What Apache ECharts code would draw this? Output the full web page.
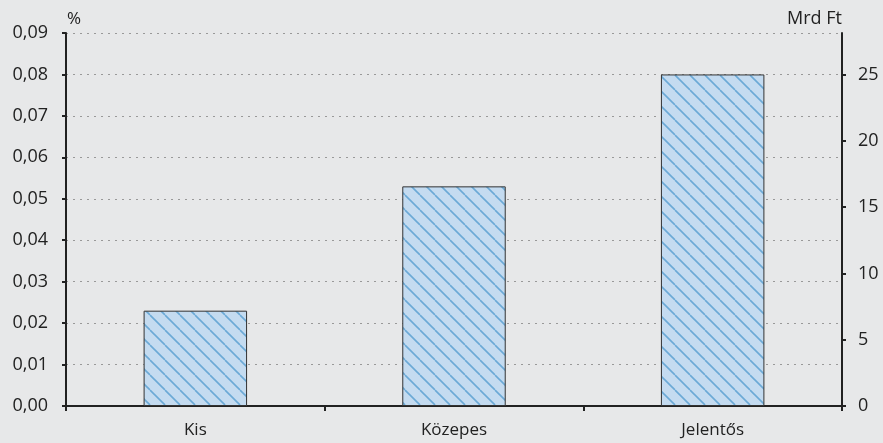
<!DOCTYPE html>
<html>
<head>
<meta charset="utf-8">
<script src="https://cdn.jsdelivr.net/npm/echarts@6/dist/echarts.min.js"></script>
<style>
html,body{margin:0;padding:0;background:#e7e8e9;}
#c{width:883px;height:443px;}
</style>
</head>
<body>
<div id="c"></div>
<script>
const categories = ['Kis', 'Közepes', 'Jelentős'];
const values = [0.023, 0.053, 0.080];
const leftTicks = [0, 0.01, 0.02, 0.03, 0.04, 0.05, 0.06, 0.07, 0.08, 0.09];
const rightTicks = [0, 5, 10, 15, 20, 25];

function hatch() {
  const c = document.createElement('canvas');
  c.width = 15; c.height = 15;
  const g = c.getContext('2d');
  g.fillStyle = '#c4dbf0';
  g.fillRect(0, 0, 15, 15);
  g.strokeStyle = '#6ba9d6';
  g.lineWidth = 1.6;
  for (let k = -1; k <= 1; k++) {
    g.beginPath();
    g.moveTo(k * 15, 0);
    g.lineTo(k * 15 + 15, 15);
    g.stroke();
  }
  return c;
}

const chart = echarts.init(document.getElementById('c'));
const font = 'Open Sans, Noto Sans, sans-serif';
chart.setOption({
  backgroundColor: '#e7e8e9',
  animation: false,
  grid: { left: 66, right: 41, top: 33, bottom: 37 },
  xAxis: {
    type: 'category',
    data: categories,
    boundaryGap: true,
    axisLine: { lineStyle: { color: '#222', width: 2 } },
    axisTick: { show: true, length: 5, lineStyle: { color: '#222', width: 2 } },
    axisLabel: { color: '#222', fontSize: 17, fontFamily: font, margin: 16 }
  },
  yAxis: [{
    type: 'value',
    min: 0, max: 0.09, interval: 0.01,
    name: '%',
    nameGap: 5,
    nameTextStyle: { color: '#222', fontSize: 17, fontFamily: font, align: 'left', padding: [0, 0, 0, 1] },
    axisLine: { show: true, lineStyle: { color: '#222', width: 2 } },
    axisTick: { show: true, length: 4, lineStyle: { color: '#222', width: 2 } },
    axisLabel: { color: '#222', fontSize: 18, fontFamily: font, margin: 18,
      formatter: v => v.toFixed(2).replace('.', ',') },
    splitLine: { show: true, lineStyle: { color: '#999', type: [2, 5], width: 1 } }
  }, {
    type: 'value',
    min: 0, max: 28.125,
    position: 'right',
    name: 'Mrd Ft',
    nameGap: 5,
    nameTextStyle: { color: '#222', fontSize: 18, fontFamily: font, align: 'right', padding: [0, 0, 0, 0] },
    axisLine: { show: true, lineStyle: { color: '#222', width: 2 } },
    axisTick: { show: true, length: 4, customValues: rightTicks, lineStyle: { color: '#222', width: 2 } },
    axisLabel: { color: '#222', fontSize: 18, fontFamily: font, margin: 16, customValues: rightTicks },
    splitLine: { show: false }
  }],
  series: [{
    type: 'bar',
    data: values,
    barWidth: '40%',
    itemStyle: {
      color: { image: hatch(), repeat: 'repeat' },
      borderColor: '#333',
      borderWidth: 1
    }
  }]
});
</script>
</body>
</html>
